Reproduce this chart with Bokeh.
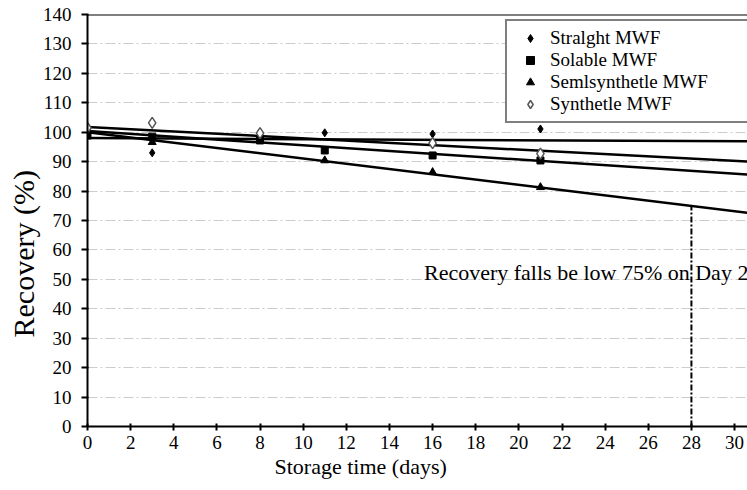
import math
from bokeh.plotting import figure
from bokeh.models import (Legend, LegendItem, FixedTicker, Label, Span, Range1d, Title)
from bokeh.embed import file_html
from bokeh.resources import INLINE

# ---- data ----
days_straight = [0, 3, 11, 16, 21]
straight = [99.5, 93.0, 99.8, 99.4, 101.1]

days_soluble = [0, 3, 8, 11, 16, 21]
soluble = [99.0, 98.5, 97.2, 93.8, 92.1, 90.4]

days_semi = [0, 3, 11, 16, 21]
semi = [98.5, 96.6, 90.4, 86.4, 81.3]

days_synthetic = [0, 3, 8, 16, 21]
synthetic = [101.5, 103.2, 99.7, 96.3, 92.7]

# trend lines: value at start (day 0) and at end (day 30.6)
trend_x = [0, 30.6]
trend_straight = [98.0, 96.9]
trend_synthetic = [101.8, 90.0]
trend_soluble = [100.4, 85.6]
trend_semi = [100.0, 72.6]

cutoff_day = 28
cutoff_value = 75.2

x_ticks = list(range(0, 31, 2))
y_ticks = list(range(0, 141, 10))

legend_labels = ["Stralght MWF", "Solable MWF", "Semlsynthetle MWF", "Synthetle MWF"]
annotation = "Recovery falls be low 75% on Day 28"
x_label = "Storage time (days)"
y_label = "Recovery (%)"

FONT = "'Liberation Serif', 'Times New Roman', serif"

p = figure(width=747, height=490, output_backend="svg", toolbar_location=None,
           x_range=Range1d(0, 30.6), y_range=Range1d(0, 140),
           min_border_left=87, min_border_right=0, min_border_top=14,
           min_border_bottom=64)
p.outline_line_color = None
p.background_fill_color = "white"
p.border_fill_color = "white"

# axes
for ax in (p.xaxis[0], p.yaxis[0]):
    ax.axis_line_width = 2
    ax.axis_line_color = "black"
    ax.major_tick_line_color = "black"
    ax.major_tick_line_width = 2
    ax.minor_tick_line_color = None
    ax.major_label_text_font = FONT
    ax.major_label_text_font_size = "19px"
    ax.major_label_text_color = "black"
p.xaxis.ticker = FixedTicker(ticks=x_ticks)
p.yaxis.ticker = FixedTicker(ticks=y_ticks)
p.xaxis.major_tick_in = 3
p.xaxis.major_tick_out = 4
p.xaxis.major_label_standoff = 5
p.yaxis.major_tick_in = 1
p.yaxis.major_tick_out = 6
p.yaxis.major_label_standoff = 10

p.xgrid.grid_line_color = None
p.ygrid.grid_line_color = "#cccccc"
p.ygrid.grid_line_dash = "10 3 2 3"
p.ygrid.grid_line_width = 1

# top border line
p.add_layout(Span(location=140, dimension="width", line_color="black", line_width=2))

# trend lines
for ys in (trend_straight, trend_synthetic, trend_soluble, trend_semi):
    p.line(trend_x, ys, line_color="black", line_width=2.5)

# cutoff line
p.segment(x0=[cutoff_day], y0=[0], x1=[cutoff_day], y1=[cutoff_value],
          line_color="black", line_width=2, line_dash="6 2 2 2")

# points
r1 = p.scatter(days_straight, straight, marker="diamond", size=8,
               fill_color="black", line_color="black")
r2 = p.scatter(days_soluble, soluble, marker="square", size=7,
               fill_color="black", line_color="black")
r3 = p.scatter(days_semi, semi, marker="triangle", size=8,
               fill_color="black", line_color="black")
r4 = p.scatter(days_synthetic, synthetic, marker="diamond", size=11,
               fill_color="white", line_color="#555555", line_width=1.5)

# annotation
p.add_layout(Label(x=15.6, y=52.4, text=annotation, text_font=FONT,
                   text_font_size="22px", text_color="black",
                   text_align="left", text_baseline="alphabetic"))

# axis titles (offset as in reference)
xt = Title(text=x_label, align="left", offset=187, standoff=0,
           text_font=FONT, text_font_size="22px", text_font_style="normal",
           text_color="black")
p.add_layout(xt, "below")
yt = Title(text=y_label, align="left", offset=89, standoff=0,
           text_font=FONT, text_font_size="30px", text_font_style="normal",
           text_color="black")
p.add_layout(yt, "left")

legend = Legend(items=[LegendItem(label=legend_labels[0], renderers=[r1]),
                       LegendItem(label=legend_labels[1], renderers=[r2]),
                       LegendItem(label=legend_labels[2], renderers=[r3]),
                       LegendItem(label=legend_labels[3], renderers=[r4])],
                location=(418, 303))
legend.label_text_font = FONT
legend.label_text_font_size = "19px"
legend.label_text_color = "black"
legend.label_height = 20
legend.glyph_height = 20
legend.glyph_width = 34
legend.label_standoff = 3
legend.spacing = 0
legend.padding = 6
legend.margin = 0
legend.label_width = 230
legend.border_line_color = "black"
legend.border_line_width = 2
legend.background_fill_color = "white"
legend.background_fill_alpha = 1
p.add_layout(legend, "center")

open("out.html", "w").write(file_html(p, INLINE))
